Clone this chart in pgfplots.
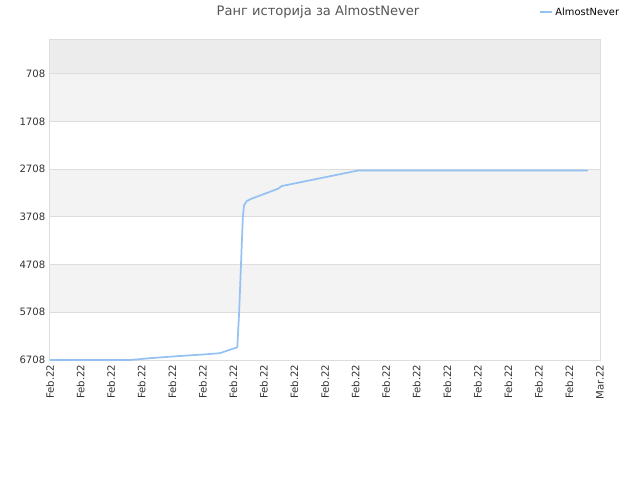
\documentclass[border=0pt]{standalone}
\usepackage{pgfplots}
\pgfplotsset{compat=1.18}
\usepackage{fontspec}
\setmainfont{DejaVu Sans}
\definecolor{rankline}{HTML}{95C2F2}
\definecolor{gridc}{HTML}{DDDDDD}
\definecolor{bandA}{HTML}{ECECEC}
\definecolor{bandB}{HTML}{F3F3F3}
\definecolor{titlec}{HTML}{555555}
\definecolor{tickc}{HTML}{333333}
\begin{document}
\begin{tikzpicture}
\useasboundingbox (0pt,0pt) rectangle (480pt,360pt);
% background bands (plot area: x 37.5..450pt, y 90..330pt, rank 0 at top)
\fill[bandA] (37.5pt,304.67pt) rectangle (450pt,330pt);
\fill[bandB] (37.5pt,268.89pt) rectangle (450pt,304.67pt);
\fill[bandB] (37.5pt,197.33pt) rectangle (450pt,233.11pt);
\fill[bandB] (37.5pt,125.78pt) rectangle (450pt,161.55pt);
% title
\node[font=\fontsize{9.8}{11}\selectfont, text=titlec] at (238.5pt,351pt) {Ранг историја за AlmostNever};
\begin{axis}[
    at={(37.5pt,90pt)}, anchor=south west,
    scale only axis, width=412.5pt, height=240pt,
    xmin=0, xmax=18, ymin=0, ymax=6708,
    y dir=reverse,
    enlargelimits=false,
    xtick={0,...,18},
    xticklabels={Feb.22,Feb.22,Feb.22,Feb.22,Feb.22,Feb.22,Feb.22,Feb.22,Feb.22,Feb.22,Feb.22,Feb.22,Feb.22,Feb.22,Feb.22,Feb.22,Feb.22,Feb.22,Mar.22},
    ytick={708,1708,2708,3708,4708,5708,6708},
    /pgf/number format/assume math mode=true,
    /pgf/number format/1000 sep={},
    x tick label style={rotate=90, anchor=east, font=\fontsize{7.6}{9}\selectfont, text=tickc},
    y tick label style={font=\fontsize{7.6}{9}\selectfont, text=tickc},
    major tick length=0pt,
    ymajorgrids,
    grid style={gridc, line width=0.75pt},
    axis line style={gridc, line width=0.75pt},
    legend style={at={(1.04,1.11)}, anchor=north east, draw=none, fill=none,
        font=\fontsize{7.4}{9}\selectfont, inner sep=0pt},
    legend image code/.code={\draw[#1, line width=1.5pt] (0pt,0pt) -- (9pt,0pt);},
]
\addplot[rankline, line width=1.3pt, mark=none] coordinates {
(0,6708) (2.62,6708) (3.27,6670) (4.15,6628) (5.0,6593) (5.56,6565)
(6.13,6440) (6.19,5705) (6.25,4725) (6.31,3725) (6.35,3466) (6.44,3376)
(6.60,3326) (7.47,3116) (7.58,3062) (10.09,2735) (17.61,2735)
};
\addlegendentry{AlmostNever}
\end{axis}
\end{tikzpicture}
\end{document}
